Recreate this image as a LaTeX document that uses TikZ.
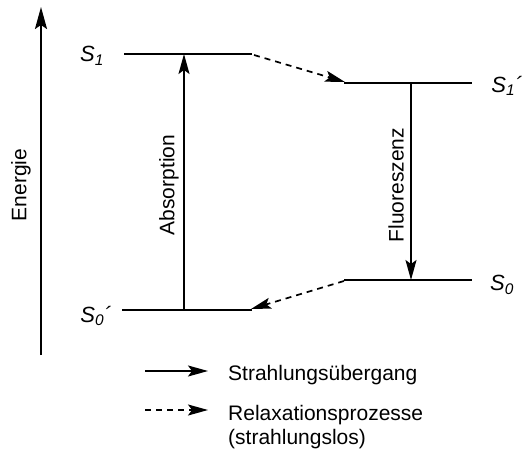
\documentclass[tikz,border=0pt]{standalone}
\usepackage{fontspec}
\setmainfont{Liberation Sans}
\usetikzlibrary{arrows.meta}
\begin{document}
\begin{tikzpicture}[x=1pt,y=-1pt,
  level/.style={line width=1.8pt},
  trans/.style={line width=1.7pt,-{Stealth[length=20pt,width=11pt,inset=4pt]}},
  relax/.style={line width=1.7pt,dash pattern=on 6pt off 5pt,-{Stealth[length=20pt,width=11pt,inset=4pt]}},
  lbl/.style={font=\fontsize{22}{26}\selectfont\itshape,inner sep=0pt},
  txt/.style={font=\fontsize{21}{25}\selectfont,inner sep=0pt}]
\useasboundingbox (0,0) rectangle (522,450);
% energy axis
\coordinate (eb) at (41,355);
\coordinate (et) at (41,7);
\draw[line width=2pt,-{Stealth[length=22pt,width=12pt,inset=4pt]}] (eb) -- (et);
\node[txt,rotate=90] (en) at (21,185) {Energie};
% levels
\coordinate (s1a) at (124,54); \coordinate (s1b) at (252,54);
\coordinate (s1pa) at (344,83); \coordinate (s1pb) at (472,83);
\coordinate (s0a) at (344,280); \coordinate (s0b) at (472,280);
\coordinate (s0pa) at (122,310); \coordinate (s0pb) at (252,310);
\draw[level] (s1a) -- (s1b);
\draw[level] (s1pa) -- (s1pb);
\draw[level] (s0a) -- (s0b);
\draw[level] (s0pa) -- (s0pb);
\node[lbl] (l1) at (92,56) {S\textsubscript{1}};
\node[lbl] (l1p) at (507,86) {S\textsubscript{1}´};
\node[lbl] (l0) at (502,285) {S\textsubscript{0}};
\node[lbl] (l0p) at (96,316) {S\textsubscript{0}´};
% transitions
\coordinate (ab) at (184,310); \coordinate (at) at (184,54);
\draw[trans] (ab) -- (at);
\node[txt,rotate=90] (abs) at (169,185) {Absorption};
\coordinate (ft) at (411,83); \coordinate (fb) at (411,280);
\draw[trans] (ft) -- (fb);
\node[txt,rotate=90] (flu) at (396,185) {Fluoreszenz};
% relaxation
\coordinate (r1a) at (254,55); \coordinate (r1b) at (345,82);
\draw[relax] (r1a) -- (r1b);
\coordinate (r2a) at (344,281); \coordinate (r2b) at (251,309);
\draw[relax] (r2a) -- (r2b);
% legend
\coordinate (g1a) at (145,371); \coordinate (g1b) at (208,371);
\draw[trans] (g1a) -- (g1b);
\node[txt,anchor=base west] (t1) at (228,380) {Strahlungsübergang};
\coordinate (g2a) at (145,410); \coordinate (g2b) at (208,410);
\draw[relax] (g2a) -- (g2b);
\node[txt,anchor=base west] (t2) at (228,420) {Relaxationsprozesse};
\node[txt,anchor=base west] (t3) at (228,444) {(strahlungslos)};
\end{tikzpicture}
\end{document}
